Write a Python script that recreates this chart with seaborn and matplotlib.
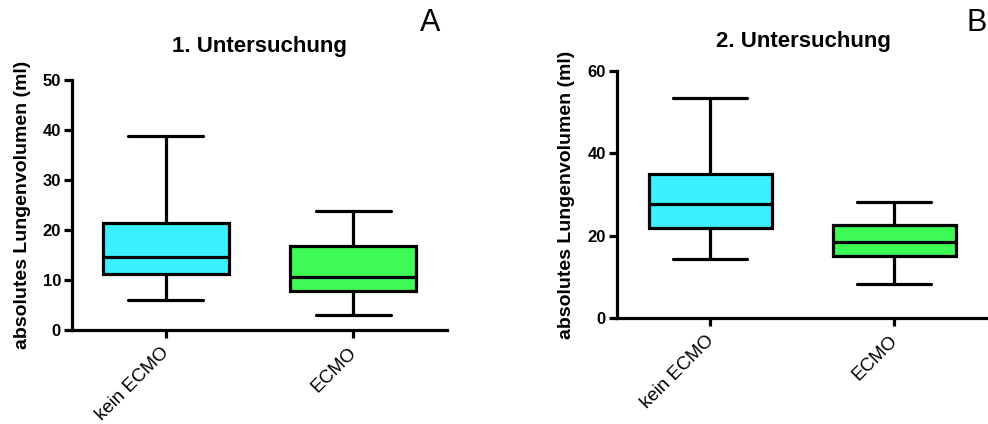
import numpy as np
import pandas as pd
import matplotlib
matplotlib.use("Agg")
import matplotlib.pyplot as plt
import matplotlib.transforms as mtransforms
import seaborn as sns

sns.set_style("ticks")
plt.rcParams['font.family'] = ['Liberation Sans', 'DejaVu Sans']
for k in ["text.color", "axes.labelcolor", "xtick.color", "ytick.color", "axes.edgecolor"]:
    plt.rcParams[k] = "black"

groups = ["kein ECMO", "ECMO"]
# five-number summaries (min, Q1, median, Q3, max)
u1_kein = [6.1, 11.3, 14.6, 21.5, 38.9]
u1_ecmo = [3.1, 7.8, 10.7, 16.9, 23.8]
u2_kein = [14.5, 21.8, 27.7, 35.0, 53.4]
u2_ecmo = [8.3, 15.2, 18.4, 22.6, 28.3]
titles = ["1. Untersuchung", "2. Untersuchung"]
panel_letters = ["A", "B"]
yticks_1 = [0, 10, 20, 30, 40, 50]
yticks_2 = [0, 20, 40, 60]
colors = ["#3BF0FF", "#3EFA55"]

fig = plt.figure(figsize=(9.88, 4.24), dpi=100)
axA = fig.add_axes([72/988, 1-330/424, 375/988, 250/424])
axB = fig.add_axes([617/988, 1-318.3/424, 372/988, 247.3/424])

lw = 2.3
panels = [
    (axA, u1_kein, u1_ecmo, yticks_1, (-0.5, 1.5), 20, 8),
    (axB, u2_kein, u2_ecmo, yticks_2, (-0.507, 1.515), 17, 9),
]
offset = mtransforms.ScaledTranslation(-5/100, -3/100, fig.dpi_scale_trans)
for i, (ax, k, e, yt, xl, tpad, lpad) in enumerate(panels):
    df = pd.DataFrame({"grp": [groups[0]]*5 + [groups[1]]*5, "val": k + e})
    sns.boxplot(data=df, x="grp", y="val", hue="grp", palette=colors, legend=False,
                whis=(0, 100), width=0.67, ax=ax, linecolor="black", linewidth=lw,
                showfliers=False, saturation=1,
                boxprops=dict(edgecolor="black", linewidth=lw),
                whiskerprops=dict(color="black", linewidth=lw),
                capprops=dict(color="black", linewidth=lw),
                medianprops=dict(color="black", linewidth=lw))
    for line in ax.lines:
        xd = line.get_xdata()
        yd = line.get_ydata()
        if len(xd) == 2 and xd[0] != xd[1] and yd[0] == yd[1]:
            c = (xd[0] + xd[1]) / 2
            if abs(xd[1] - xd[0]) < 0.6:
                line.set_xdata([c - 0.2, c + 0.2])
    ax.set_xlim(*xl)
    ax.set_ylim(0, yt[-1])
    ax.set_yticks(yt)
    ax.set_xlabel("")
    ax.set_ylabel("absolutes Lungenvolumen (ml)", fontsize=14, fontweight="bold", labelpad=lpad)
    ax.set_title(titles[i], fontsize=16, fontweight="bold", pad=tpad)
    for s in ["top", "right"]:
        ax.spines[s].set_visible(False)
    for s in ["left", "bottom"]:
        ax.spines[s].set_linewidth(lw)
        ax.spines[s].set_color("black")
    ax.tick_params(axis="both", width=lw, length=6, color="black", pad=2)
    for lab in ax.get_yticklabels():
        lab.set_fontweight("bold")
        lab.set_fontsize(12)
    ax.set_xticks([0, 1])
    ax.set_xticklabels(groups, rotation=45, ha="right", rotation_mode="anchor", fontsize=13.5)
    for lab in ax.get_xticklabels():
        lab.set_transform(lab.get_transform() + offset)

fig.text(430/988, 1-23/424, "A", fontsize=22, ha="center", va="center")
fig.text(987/988, 1-23/424, "B", fontsize=22, ha="right", va="center")

fig.savefig("out.png", dpi=100)
